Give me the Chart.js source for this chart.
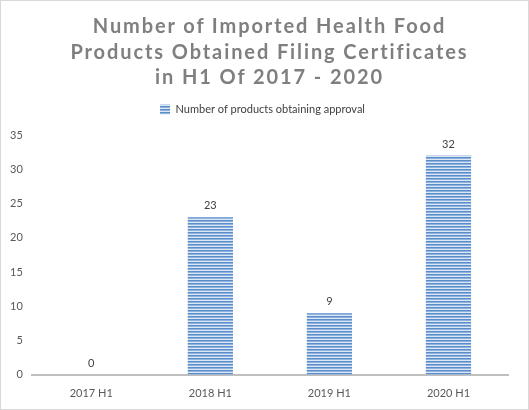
<!DOCTYPE html>
<html lang="en">
<head>
<meta charset="UTF-8">
<title>Imported Health Food Filing Certificates</title>
<script src="https://cdn.jsdelivr.net/npm/chart.js@4"></script>
<style>
    html, body { margin: 0; padding: 0; background: #fff; }
    .frame {
        position: relative;
        width: 527px;
        height: 408px;
        border: 1px solid #d9d9d9;
        overflow: hidden;
    }
    .title {
        position: absolute;
        left: 10px; right: 0; top: 12px;
        text-align: center;
        font-family: Lato, sans-serif;
        font-weight: 700;
        font-size: 20px;
        line-height: 25.5px;
        letter-spacing: 1.9px;
        color: #7f7f7f;
    }
    canvas { position: absolute; left: 0; top: 0; }
</style>
</head>
<body>
<div class="frame">
    <canvas id="chart" width="527" height="408"></canvas>
    <div class="title">Number of Imported Health Food<br>Products Obtained Filing Certificates<br>in H1 Of 2017 - 2020</div>
</div>

<script>
const periods = ['2017 H1', '2018 H1', '2019 H1', '2020 H1'];
const approvals = [0, 23, 9, 32];
const seriesName = 'Number of products obtaining approval';

// horizontal stripes like the original fill
function stripes() {
    const c = document.createElement('canvas');
    c.width = 4; c.height = 3;
    const g = c.getContext('2d');
    g.fillStyle = '#5b8ccb'; g.fillRect(0, 0, 4, 1);
    g.fillStyle = '#8fb2dd'; g.fillRect(0, 1, 4, 1);
    g.fillStyle = '#dbe7f5'; g.fillRect(0, 2, 4, 1);
    return g.createPattern(c, 'repeat');
}

const labelFont = { family: 'Lato', size: 11 };

// value labels above each bar
const valueLabels = {
    id: 'valueLabels',
    afterDatasetsDraw(chart) {
        const ctx = chart.ctx;
        const meta = chart.getDatasetMeta(0);
        ctx.save();
        ctx.font = '11px Lato';
        ctx.fillStyle = '#404040';
        ctx.textAlign = 'center';
        ctx.textBaseline = 'bottom';
        meta.data.forEach((bar, i) => {
            ctx.fillText(approvals[i], bar.x, bar.y - 6);
        });
        ctx.restore();
    }
};

// extra space under the legend, and nudge it right like the original
const legendTweak = {
    id: 'legendTweak',
    beforeInit(chart) {
        const fit = chart.legend.fit;
        chart.legend.fit = function () {
            fit.bind(chart.legend)();
            this.height += 10;
        };
    },
    afterLayout(chart) {
        chart.legend.left += 8;
        chart.legend.right += 8;
    }
};

const pat = stripes();

new Chart(document.getElementById('chart'), {
    type: 'bar',
    data: {
        labels: periods,
        datasets: [{
            label: seriesName,
            data: approvals,
            backgroundColor: pat,
            borderWidth: 0,
            barPercentage: 0.38,
            categoryPercentage: 1
        }]
    },
    options: {
        responsive: false,
        animation: false,
        layout: { padding: { top: 93, left: 0, right: 20, bottom: 1 } },
        plugins: {
            legend: {
                position: 'top',
                labels: {
                    font: labelFont,
                    color: '#404040',
                    boxWidth: 10,
                    boxHeight: 10,
                    padding: 10
                }
            },
            tooltip: { enabled: false }
        },
        scales: {
            x: {
                grid: { display: false, drawTicks: false },
                border: { color: '#bfbfbf', width: 2 },
                ticks: { font: labelFont, color: '#595959', padding: 12 },
                afterFit(scale) { scale.height -= 4; }
            },
            y: {
                min: 0,
                max: 35,
                grid: { display: false, drawTicks: false },
                border: { display: false },
                ticks: { stepSize: 5, font: labelFont, color: '#595959', padding: 9 }
            }
        }
    },
    plugins: [valueLabels, legendTweak]
});
</script>
</body>
</html>
